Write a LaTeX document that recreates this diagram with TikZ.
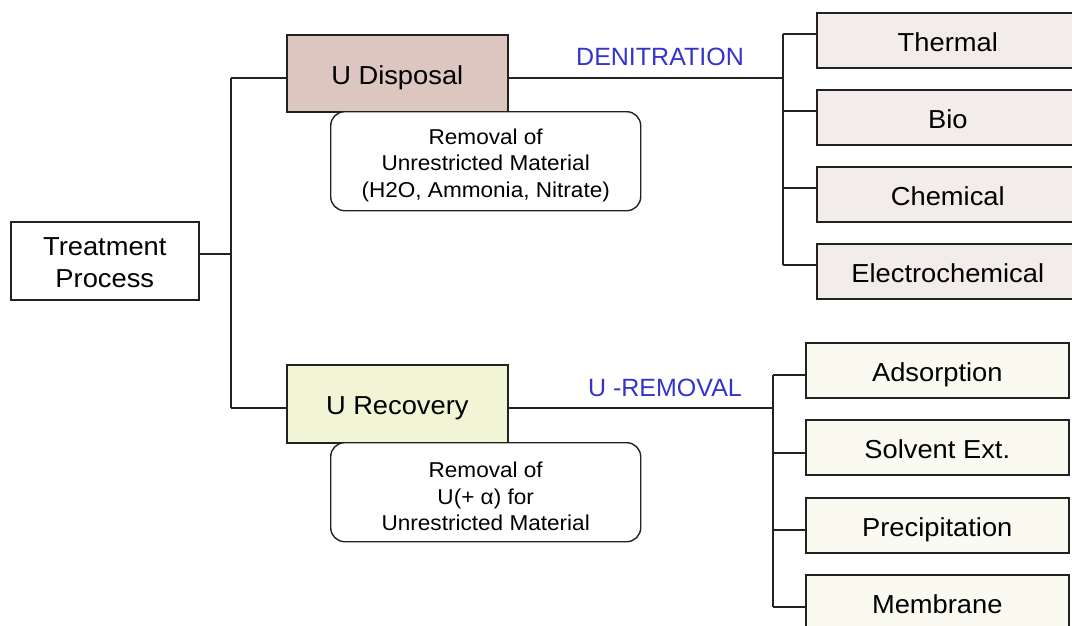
\documentclass[tikz,border=0pt]{standalone}
\usepackage{fontspec}
\setmainfont{Liberation Sans}[FakeStretch=1.05]
\newfontfamily\lblfont{Liberation Sans}
\definecolor{edge}{HTML}{222222}
\definecolor{udfill}{HTML}{DCC6BF}
\definecolor{urfill}{HTML}{F2F4D6}
\definecolor{topfill}{HTML}{F2EDEA}
\definecolor{botfill}{HTML}{FAFAF1}
\definecolor{lblblue}{HTML}{3434CC}
\tikzset{
  box/.style={draw=edge, line width=1.6pt, anchor=north west, inner sep=0pt,
    font=\fontsize{26}{32}\selectfont},
  onebox/.style={box, text height=21.6pt, text depth=0pt},
  notebox/.style={draw=edge, line width=1.4pt, rounded corners=14pt, anchor=north west, inner sep=0pt,
    align=center, fill=white, font=\fontsize{21.5}{26.5}\selectfont, minimum width=310pt, minimum height=99pt},
  topbox/.style={onebox, fill=topfill, minimum width=262pt, minimum height=55pt},
  botbox/.style={onebox, fill=botfill, minimum width=263pt, minimum height=55pt},
  conn/.style={draw=edge, line width=1.6pt},
  lbl/.style={text=lblblue, font=\lblfont\fontsize{25}{30}\selectfont, inner sep=0pt}
}
\begin{document}
\begin{tikzpicture}[x=1pt,y=-1pt]
\useasboundingbox (0,0) rectangle (1072,625);
% main nodes
\node[box, align=center, fill=white, minimum width=188pt, minimum height=78pt] (tp) at (10,221) {\rule{0pt}{21pt}Treatment\\Process};
\node[onebox, fill=udfill, minimum width=221pt, minimum height=77pt] (ud) at (286,34) {U Disposal};
\node[onebox, fill=urfill, minimum width=221pt, minimum height=78pt] (ur) at (286,364) {U Recovery};
\node[notebox] (n1) at (330,111) {\rule{0pt}{24pt}Removal of\\Unrestricted Material\\(H2O, Ammonia, Nitrate)};
\node[notebox] (n2) at (330,442) {\rule{0pt}{24pt}Removal of\\U(+ α) for\\Unrestricted Material};
% right boxes
\node[topbox] (th) at (816,12) {Thermal};
\node[topbox] (bi) at (816,89) {Bio};
\node[topbox] (ch) at (816,166) {Chemical};
\node[topbox] (el) at (816,243) {Electrochemical};
\node[botbox] (ad) at (805,342) {Adsorption};
\node[botbox] (so) at (805,419) {Solvent Ext.};
\node[botbox] (pr) at (805,497) {Precipitation};
\node[botbox] (me) at (805,574) {Membrane};
% labels
\node[lbl] (den) at (660,57) {DENITRATION};
\node[lbl] (urm) at (665,388) {U -REMOVAL};
% junction coordinates
\coordinate (tr) at (231,254);
\coordinate (ta) at (231,78);
\coordinate (tb) at (231,408);
\coordinate (j1) at (783,78);
\coordinate (j1a) at (783,34);
\coordinate (j1b) at (783,111);
\coordinate (j1c) at (783,188);
\coordinate (j1d) at (783,265);
\coordinate (j2) at (773,408);
\coordinate (j2a) at (773,375);
\coordinate (j2b) at (773,453);
\coordinate (j2c) at (773,530);
\coordinate (j2d) at (773,607);
% connectors
\draw[conn] (tp.east |- tr) -- (tr);
\draw[conn] (ta) -- (tb);
\draw[conn] (ta) -- (ta -| ud.west);
\draw[conn] (tb) -- (tb -| ur.west);
\draw[conn] (ud.east |- j1) -- (j1);
\draw[conn] (ur.east |- j2) -- (j2);
\draw[conn] (j1a) -- (j1d);
\draw[conn] (j2a) -- (j2d);
\draw[conn] (j1a) -- (j1a -| th.west);
\draw[conn] (j1b) -- (j1b -| bi.west);
\draw[conn] (j1c) -- (j1c -| ch.west);
\draw[conn] (j1d) -- (j1d -| el.west);
\draw[conn] (j2a) -- (j2a -| ad.west);
\draw[conn] (j2b) -- (j2b -| so.west);
\draw[conn] (j2c) -- (j2c -| pr.west);
\draw[conn] (j2d) -- (j2d -| me.west);
\end{tikzpicture}
\end{document}
